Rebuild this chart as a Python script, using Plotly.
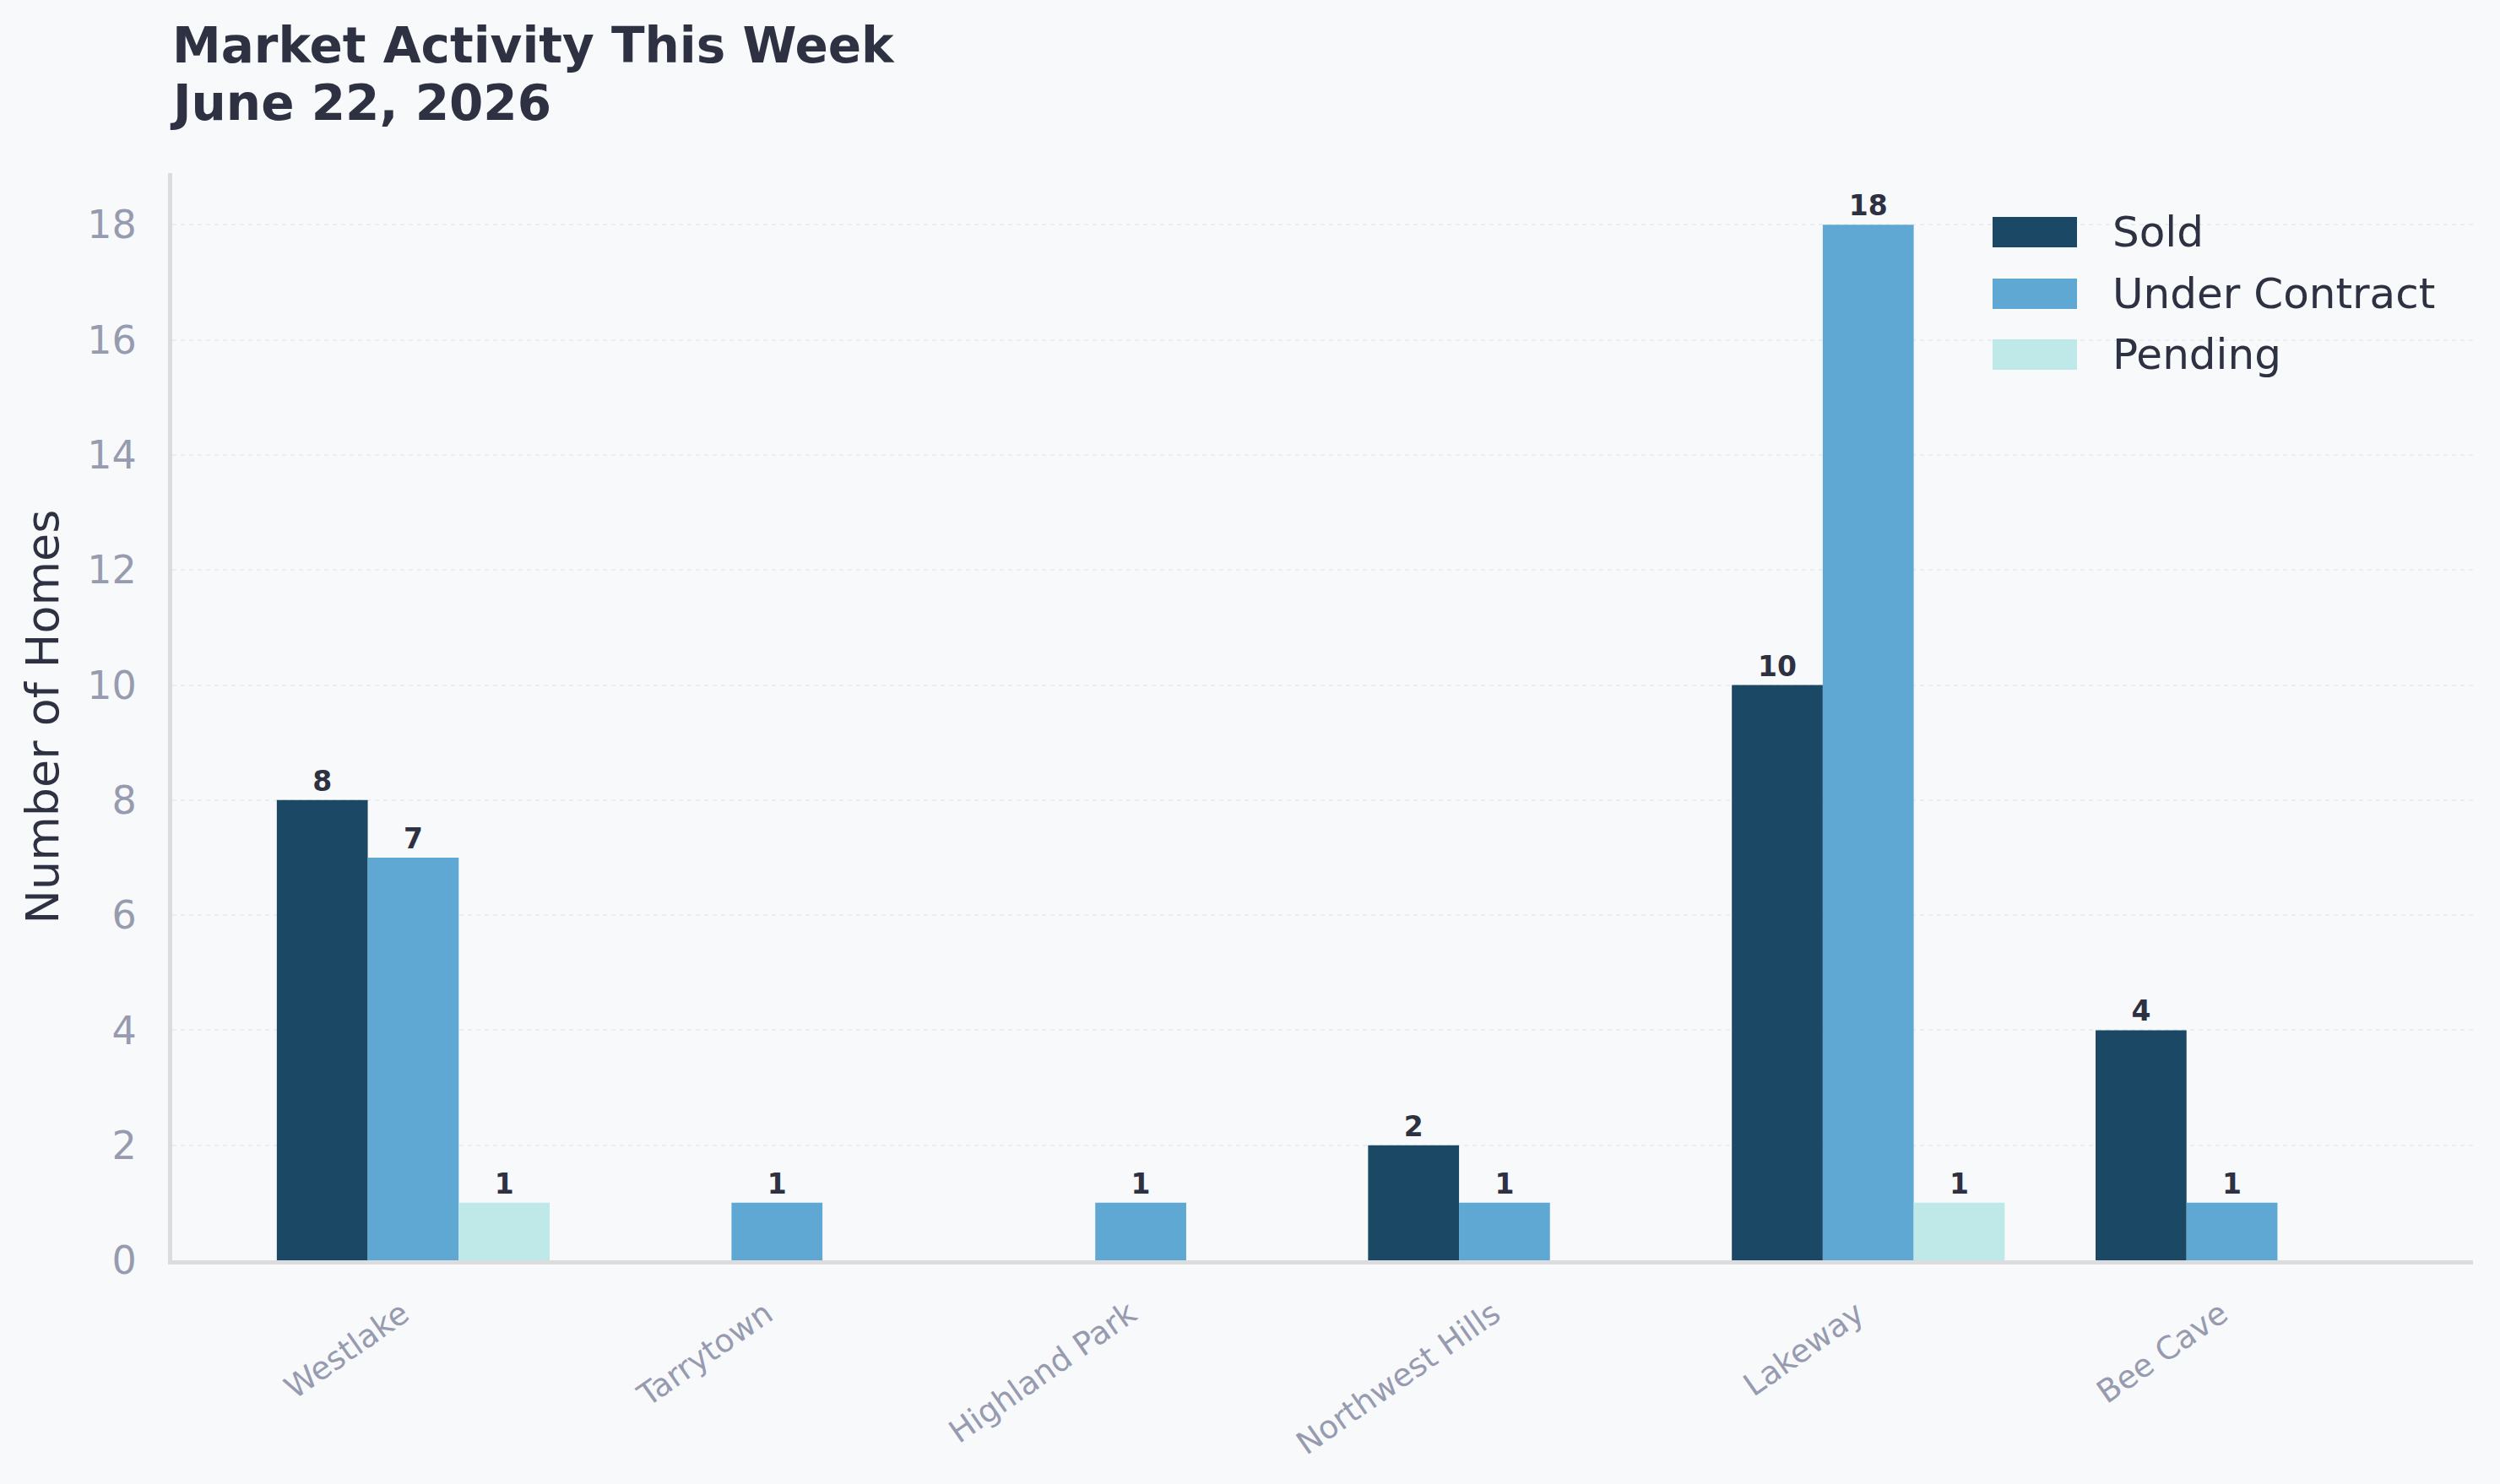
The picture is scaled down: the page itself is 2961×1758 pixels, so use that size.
import plotly.graph_objects as go

# ---- data ----
neighborhoods = ["Westlake", "Tarrytown", "Highland Park", "Northwest Hills", "Lakeway", "Bee Cave"]
sold = [8, 0, 0, 2, 10, 4]
under_contract = [7, 1, 1, 1, 18, 1]
pending = [1, 0, 0, 0, 1, 0]
series_names = ["Sold", "Under Contract", "Pending"]
series_colors = ["#1b4965", "#5fa8d3", "#bee9e8"]
y_ticks = [0, 2, 4, 6, 8, 10, 12, 14, 16, 18]
title_line1 = "Market Activity This Week"
title_line2 = "June 22, 2026"

W, H = 2961, 1758
ML, MR, MT, MB = 204, 32, 205, 265
PW, PH = W - ML - MR, H - MT - MB

BG = "#f8f9fb"
DARK = "#2d3142"
GREY = "#979bb0"
SPINE = "#dcdcdf"
FONT = "DejaVu Sans"

fig = go.Figure()
series = [sold, under_contract, pending]
for name, vals, col in zip(series_names, series, series_colors):
    fig.add_trace(go.Bar(
        x=neighborhoods, y=vals, name=name,
        marker=dict(color=col, line=dict(width=0)),
        text=[str(v) if v > 0 else "" for v in vals],
        textposition="outside",
        textangle=0,
        constraintext="none",
        cliponaxis=False,
        textfont=dict(family=FONT, size=33, color=DARK, weight="bold"),
        showlegend=False,
        hoverinfo="skip",
    ))

# custom legend (swatches + labels), positioned in pixel space converted to paper
def px_to_paper_x(px):
    return (px - ML) / PW

def px_to_paper_y(py):
    return (MT + PH - py) / PH

shapes = []
annotations = []
row_centers = [275, 348, 420]
for name, col, cy in zip(series_names, series_colors, row_centers):
    shapes.append(dict(
        type="rect", xref="paper", yref="paper",
        x0=px_to_paper_x(2360), x1=px_to_paper_x(2460),
        y0=px_to_paper_y(cy + 18), y1=px_to_paper_y(cy - 18),
        fillcolor=col, line=dict(width=0), layer="above",
    ))
    annotations.append(dict(
        xref="paper", yref="paper", x=px_to_paper_x(2500), y=px_to_paper_y(cy),
        text=name, showarrow=False, xanchor="left", yanchor="middle",
        font=dict(family=FONT, size=50, color=DARK),
    ))

# second title line
annotations.append(dict(
    xref="paper", yref="paper", x=0, y=px_to_paper_y(158),
    text="<b>" + title_line2 + "</b>", showarrow=False,
    xanchor="left", yanchor="bottom", xshift=-5,
    font=dict(family=FONT, size=58, color=DARK),
))

fig.update_layout(
    width=W, height=H,
    margin=dict(l=ML, r=MR, t=MT, b=MB, autoexpand=False),
    paper_bgcolor=BG, plot_bgcolor=BG,
    barmode="group", bargap=0.25, bargroupgap=0,
    font=dict(family=FONT, color=DARK),
    title=dict(
        text="<b>" + title_line1 + "</b>",
        font=dict(family=FONT, size=58, color=DARK),
        x=ML / W, xanchor="left", xref="container",
        y=1 - 33 / H, yanchor="top", yref="container",
    ),
    shapes=shapes,
    annotations=annotations,
    showlegend=False,
)

fig.update_xaxes(
    range=[-0.6625, 5.6625],
    showline=True, linecolor=SPINE, linewidth=5,
    showgrid=False, zeroline=False,
    ticks="outside", ticklen=22, tickcolor="rgba(0,0,0,0)",
    tickangle=-35, ticklabelshift=-13,
    tickfont=dict(family=FONT, size=37.5, color=GREY),
)
fig.update_yaxes(
    range=[0, 18.9],
    tickvals=y_ticks,
    showline=True, linecolor=SPINE, linewidth=5,
    showgrid=True, gridcolor="#ebedf1", gridwidth=2, griddash="5px,5px",
    zeroline=False,
    ticks="outside", ticklen=28, tickcolor="rgba(0,0,0,0)",
    tickfont=dict(family=FONT, size=46, color=GREY),
    title=dict(text="Number of Homes", font=dict(family=FONT, size=54, color=DARK), standoff=18),
)

fig.write_html("out.html")
